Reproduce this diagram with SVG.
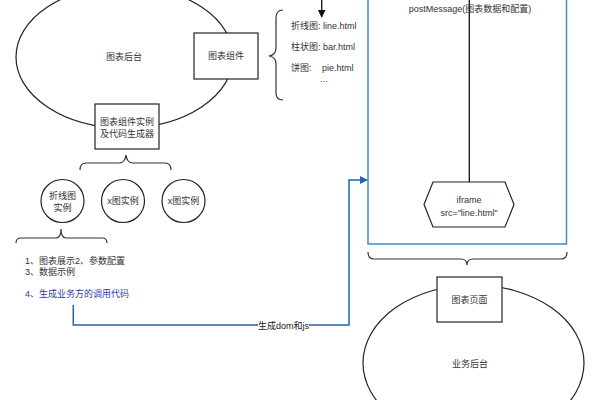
<svg xmlns="http://www.w3.org/2000/svg" width="600" height="400" viewBox="0 0 600 400">
<style>
text{font-family:"Liberation Sans","Noto Sans CJK SC",sans-serif;font-size:9px;fill:#333;}
.c{text-anchor:middle;}
.shape{fill:#fff;stroke:#222;stroke-width:1.2;}
.brace{fill:none;stroke:#333;stroke-width:1.2;}
.blue{fill:none;stroke:#1f64b0;stroke-width:1.5;}
</style>
<defs>
<marker id="ab" viewBox="0 0 10 10" refX="9" refY="5" markerWidth="8" markerHeight="8" orient="auto" markerUnits="userSpaceOnUse"><path d="M0,0L10,5L0,10z" fill="#1f64b0"/></marker>
<marker id="ak" viewBox="0 0 10 10" refX="9" refY="5" markerWidth="8" markerHeight="9" orient="auto" markerUnits="userSpaceOnUse"><path d="M0,0L10,5L0,10z" fill="#111"/></marker>
</defs>
<rect width="600" height="400" fill="#fff"/>

<g id="chart-backend"><ellipse class="shape" cx="124.5" cy="57" rx="108.5" ry="71"/><text class="c" x="124" y="60">图表后台</text></g>
<g id="chart-component"><rect class="shape" x="194" y="33" width="64" height="46"/><text class="c" x="226" y="59">图表组件</text></g>
<g id="file-list">
<path class="brace" d="M283,10 Q276,10 276,18 L276,48 Q276,55 269,56 Q276,57 276,64 L276,93 Q276,100 283,100"/>
<text x="291" y="29">折线图: line.html</text>
<text x="291" y="50">柱状图: bar.html</text>
<text x="291" y="71">饼图:</text>
<text x="322" y="71">pie.html</text>
<text x="320" y="82">...</text>
</g>
<g id="generator"><rect class="shape" x="95" y="104" width="64" height="45"/><text class="c" x="127" y="125">图表组件实例</text><text class="c" x="127" y="137">及代码生成器</text></g>
<path class="brace" d="M80,170 Q80,163 86,163 L119,163 Q125,163 126,155 Q127,163 133,163 L165,163 Q171,163 171,170"/>
<g id="line-instance"><circle class="shape" cx="62.5" cy="201" r="21.5"/><text class="c" x="62.5" y="199">折线图</text><text class="c" x="62.5" y="211">实例</text></g>
<g id="x-instance-1"><circle class="shape" cx="123" cy="201" r="21.5"/><text class="c" x="123" y="204">x图实例</text></g>
<g id="x-instance-2"><circle class="shape" cx="183.5" cy="201" r="21.5"/><text class="c" x="183.5" y="204">x图实例</text></g>
<path class="brace" d="M16,243 Q16,238 21,238 L56,238 Q61,238 61,229 Q61,238 66,238 L102,238 Q107,238 107,243"/>
<g id="features">
<text x="25" y="264">1、图表展示2、参数配置</text>
<text x="25" y="275">3、数据示例</text>
<text x="25" y="297" style="fill:#2d3aa8">4、生成业务方的调用代码</text>
</g>

<g id="iframe-container"><rect x="368" y="-5" width="198.5" height="249" fill="none" stroke="#3a8fd0" stroke-width="1.5"/></g>
<g id="iframe"><path class="shape" d="M433,182 L505,182 L514,204.5 L505,227 L433,227 L424,204.5 Z"/><text class="c" x="469" y="203">iframe</text><text class="c" x="469" y="216">src="line.html"</text></g>
<path class="brace" d="M368,252 Q368,259 374,259 L461,259 Q467,259 467,265 Q467,259 473,259 L561,259 Q567,259 567,252"/>
<g id="business-backend"><ellipse class="shape" cx="473.5" cy="363" rx="110.5" ry="78"/><text class="c" x="470" y="367">业务后台</text></g>
<g id="chart-page"><rect class="shape" x="437" y="277" width="65" height="45"/><text class="c" x="469.5" y="303">图表页面</text></g>

<g id="connectors">
<line x1="321.7" y1="0" x2="321.7" y2="17" stroke="#111" stroke-width="1.3" marker-end="url(#ak)"/>
<line x1="469.3" y1="0" x2="469.3" y2="182" stroke="#111" stroke-width="1.3"/>
<text class="c" x="470" y="12">postMessage(图表数据和配置)</text>
<polyline class="blue" points="73.3,305 73.3,325 349,325 349,180 367,180" marker-end="url(#ab)"/>
<rect x="258" y="320" width="51" height="11" fill="#fff"/>
<text class="c" x="283.5" y="329" style="fill:#222">生成dom和js</text>
</g>
</svg>
